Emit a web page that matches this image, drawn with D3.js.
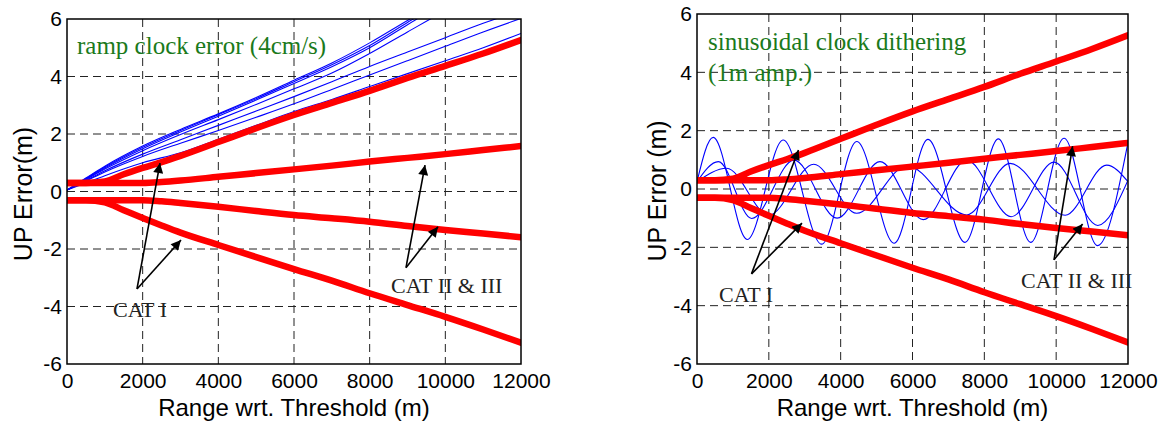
<!DOCTYPE html>
<html><head><meta charset="utf-8">
<script src="https://cdn.jsdelivr.net/npm/d3@7"></script>
<style>body{margin:0;background:#fff}svg{display:block}</style>
</head><body>
<svg id="chart" width="1160" height="425"></svg>
<script>
// ---------- data ----------
const xTicks = [0, 2000, 4000, 6000, 8000, 10000, 12000];
const yTicks = [-6, -4, -2, 0, 2, 4, 6];
const boundX = [0, 500, 1000, 1500, 2000, 2500, 3000, 4000, 5000, 6000, 7000, 8000, 9000, 10000, 11000, 12000];
const catIUpper  = [0.3, 0.3, 0.35, 0.6, 0.82, 1.02, 1.24, 1.72, 2.2, 2.66, 3.08, 3.5, 3.95, 4.37, 4.8, 5.27];
const catILower  = [-0.3, -0.3, -0.38, -0.65, -0.92, -1.18, -1.43, -1.86, -2.28, -2.7, -3.1, -3.54, -3.95, -4.36, -4.8, -5.26];
const catIIUpper = [0.3, 0.3, 0.3, 0.3, 0.3, 0.33, 0.38, 0.51, 0.64, 0.77, 0.9, 1.04, 1.17, 1.3, 1.44, 1.58];
const catIILower = [-0.3, -0.3, -0.3, -0.3, -0.3, -0.34, -0.4, -0.53, -0.68, -0.82, -0.93, -1.05, -1.2, -1.34, -1.46, -1.59];

const rampX = [0, 500, 1000, 2000, 3000, 4000, 5000, 6000, 7000, 8000, 9000, 10000, 11000, 12000];
const ramp1 = [0.05, 0.47, 0.88, 1.58, 2.16, 2.7, 3.27, 3.87, 4.47, 5.17, 5.95, 6.7, 7.4, 8.1];
const ramp2 = [0.05, 0.45, 0.85, 1.54, 2.12, 2.67, 3.23, 3.82, 4.41, 5.08, 5.88, 6.65, 7.35, 8.0];
const ramp3 = [0.05, 0.43, 0.82, 1.49, 2.07, 2.62, 3.18, 3.76, 4.34, 5.0, 5.8, 6.6, 7.3, 7.9];
const ramp4 = [0.05, 0.41, 0.78, 1.42, 1.98, 2.5, 3.03, 3.57, 4.12, 4.8, 5.55, 6.28, 6.9, 7.5];
const ramp5 = [0.05, 0.38, 0.72, 1.3, 1.8, 2.3, 2.8, 3.3, 3.82, 4.35, 4.85, 5.35, 5.85, 6.3];
const ramp6 = [0.05, 0.36, 0.68, 1.22, 1.68, 2.12, 2.58, 3.05, 3.55, 4.05, 4.55, 5.05, 5.55, 6.02];
const ramp7 = [0.05, 0.3, 0.55, 1.0, 1.35, 1.82, 2.3, 2.78, 3.2, 3.65, 4.1, 4.55, 5.0, 5.5];

// sinusoidal dithering curves: [range, error] at start, turning points and end
const ditherA = [[0,0.25],[450,1.77],[1400,-1.73],[2400,1.68],[3470,-1.89],[4450,1.63],[5490,-1.86],[6430,1.7],[7462,-1.83],[8390,1.72],[9290,-1.83],[10220,1.74],[11150,-1.94],[12000,1.6]];
const ditherB = [[0,0.25],[594,0.94],[1522,-1.01],[2700,0.99],[3900,-1.0],[5095,0.94],[6300,-1.05],[7509,0.99],[8750,-0.95],[9940,0.92],[11159,-1.25],[12000,0.3]];
const ditherC = [[0,0.25],[826,0.71],[2000,-0.9],[3250,0.85],[4446,-0.83],[5850,0.8],[7509,-0.89],[8715,0.88],[10250,-0.9],[11406,0.82],[12000,0.25]];

// ---------- drawing ----------
const svg = d3.select("#chart");
const defs = svg.append("defs");
defs.append("marker").attr("id","arrow").attr("viewBox","0 0 10 10")
  .attr("refX",10).attr("refY",5).attr("markerWidth",15).attr("markerHeight",10)
  .attr("markerUnits","userSpaceOnUse").attr("orient","auto")
  .append("path").attr("d","M0,0 L10,5 L0,10 Z").attr("fill","#000");

const sans = "'Liberation Sans', Arial, sans-serif";
const serif = "'Liberation Serif', 'Times New Roman', serif";

function panel(cfg){
  const x = d3.scaleLinear().domain([0,12000]).range([cfg.left, cfg.right]);
  const y = d3.scaleLinear().domain([-6,6]).range([cfg.bottom, cfg.top]);
  const g = svg.append("g");
  const clipId = "clip" + cfg.id;
  defs.append("clipPath").attr("id", clipId).append("rect")
    .attr("x", cfg.left).attr("y", cfg.top)
    .attr("width", cfg.right-cfg.left).attr("height", cfg.bottom-cfg.top);

  // grid
  g.selectAll(".gx").data(xTicks.slice(1,-1)).join("line")
    .attr("x1", d=>x(d)).attr("x2", d=>x(d)).attr("y1", cfg.top).attr("y2", cfg.bottom)
    .attr("stroke","#222").attr("stroke-width",1).attr("stroke-dasharray","8,5");
  g.selectAll(".gy").data(yTicks.slice(1,-1)).join("line")
    .attr("y1", d=>y(d)).attr("y2", d=>y(d)).attr("x1", cfg.left).attr("x2", cfg.right)
    .attr("stroke","#222").attr("stroke-width",1).attr("stroke-dasharray","8,5");

  // axes
  const fmt = d => String(d);
  const ax = g.append("g").attr("transform",`translate(0,${cfg.bottom})`)
    .call(d3.axisBottom(x).tickValues(xTicks).tickFormat(fmt).tickSize(0).tickPadding(9));
  const ay = g.append("g").attr("transform",`translate(${cfg.left},0)`)
    .call(d3.axisLeft(y).tickValues(yTicks).tickFormat(fmt).tickSize(0).tickPadding(5));
  [ax, ay].forEach(a=>{
    a.select(".domain").remove();
    a.selectAll("text").attr("font-family",sans).attr("font-size",21).attr("fill","#000");
  });
  ax.selectAll("text").attr("dy","0.71em");

  const plot = g.append("g").attr("clip-path",`url(#${clipId})`);
  // blue curves
  const blueLine = d3.line().x(d=>x(d[0])).y(d=>y(d[1])).curve(cfg.blueCurve);
  plot.selectAll(".blue").data(cfg.blue).join("path")
    .attr("d", blueLine).attr("fill","none").attr("stroke","#0000ff").attr("stroke-width",1.1);

  // red bounds
  const redLine = d3.line().x((d,i)=>x(boundX[i])).y(d=>y(d)).curve(d3.curveMonotoneX);
  [catIUpper, catILower, catIIUpper, catIILower].forEach(s=>{
    plot.append("path").attr("d", redLine(s)).attr("fill","none")
      .attr("stroke","#ff0000").attr("stroke-width",6.5).attr("stroke-linecap","round").attr("stroke-linejoin","round");
  });

  // frame
  g.append("rect").attr("x",cfg.left).attr("y",cfg.top)
    .attr("width",cfg.right-cfg.left).attr("height",cfg.bottom-cfg.top)
    .attr("fill","none").attr("stroke","#000").attr("stroke-width",1.5);

  // title text (green)
  cfg.title.forEach((t,i)=>{
    g.append("text").attr("x", x(cfg.titlePos[0])).attr("y", y(cfg.titlePos[1]) + i*cfg.titleLead)
      .attr("font-family",serif).attr("font-size",25).attr("fill","#1b7a1b").text(t);
  });

  // annotations
  cfg.notes.forEach(n=>{
    n.tips.forEach(tp=>{
      g.append("line").attr("x1",x(n.from[0])).attr("y1",y(n.from[1]))
        .attr("x2",x(tp[0])).attr("y2",y(tp[1]))
        .attr("stroke","#000").attr("stroke-width",1.6).attr("marker-end","url(#arrow)");
    });
    g.append("text").attr("x",x(n.textPos[0])).attr("y",y(n.textPos[1]))
      .attr("font-family",serif).attr("font-size",22).attr("fill","#222").text(n.text);
  });

  // axis titles
  g.append("text").attr("x",(cfg.left+cfg.right)/2).attr("y",416)
    .attr("text-anchor","middle").attr("font-family",sans)
    .attr("font-size",24).attr("fill","#000").text("Range wrt. Threshold (m)");
  g.append("text").attr("transform",`translate(${cfg.ylabelX},${cfg.ylabelY}) rotate(-90)`)
    .attr("text-anchor","middle").attr("font-family",sans)
    .attr("font-size",25).attr("fill","#000").text(cfg.ylabel);
}

panel({
  id:1, left:67, right:521, top:19, bottom:364,
  blue:[ramp1,ramp2,ramp3,ramp4,ramp5,ramp6,ramp7].map(s=>s.map((v,i)=>[rampX[i],v])),
  blueCurve:d3.curveMonotoneX,
  title:["ramp clock error (4cm/s)"], titlePos:[264,4.78], titleLead:0,
  ylabel:"UP Error(m)", ylabelX:32, ylabelY:194,
  notes:[
    {text:"CAT I", textPos:[1216,-4.37], from:[1850,-3.39], tips:[[2458,0.99],[3013,-1.69]]},
    {text:"CAT II & III", textPos:[8564,-3.53], from:[8960,-2.65], tips:[[9463,0.92],[9806,-1.23]]}
  ]
});
panel({
  id:2, left:697, right:1128, top:14, bottom:364,
  blue:[ditherA, ditherB, ditherC],
  blueCurve:d3.curveMonotoneX,
  title:["sinusoidal clock dithering","(1m amp.)"], titlePos:[306,4.77], titleLead:31,
  ylabel:"UP Error (m)", ylabelX:666, ylabelY:191,
  notes:[
    {text:"CAT I", textPos:[613,-3.87], from:[1517,-2.91], tips:[[2826,1.34],[2923,-1.17]]},
    {text:"CAT II & III", textPos:[9021,-3.39], from:[9940,-2.43], tips:[[10458,1.47],[10736,-1.2]]}
  ]
});
</script>
</body></html>
